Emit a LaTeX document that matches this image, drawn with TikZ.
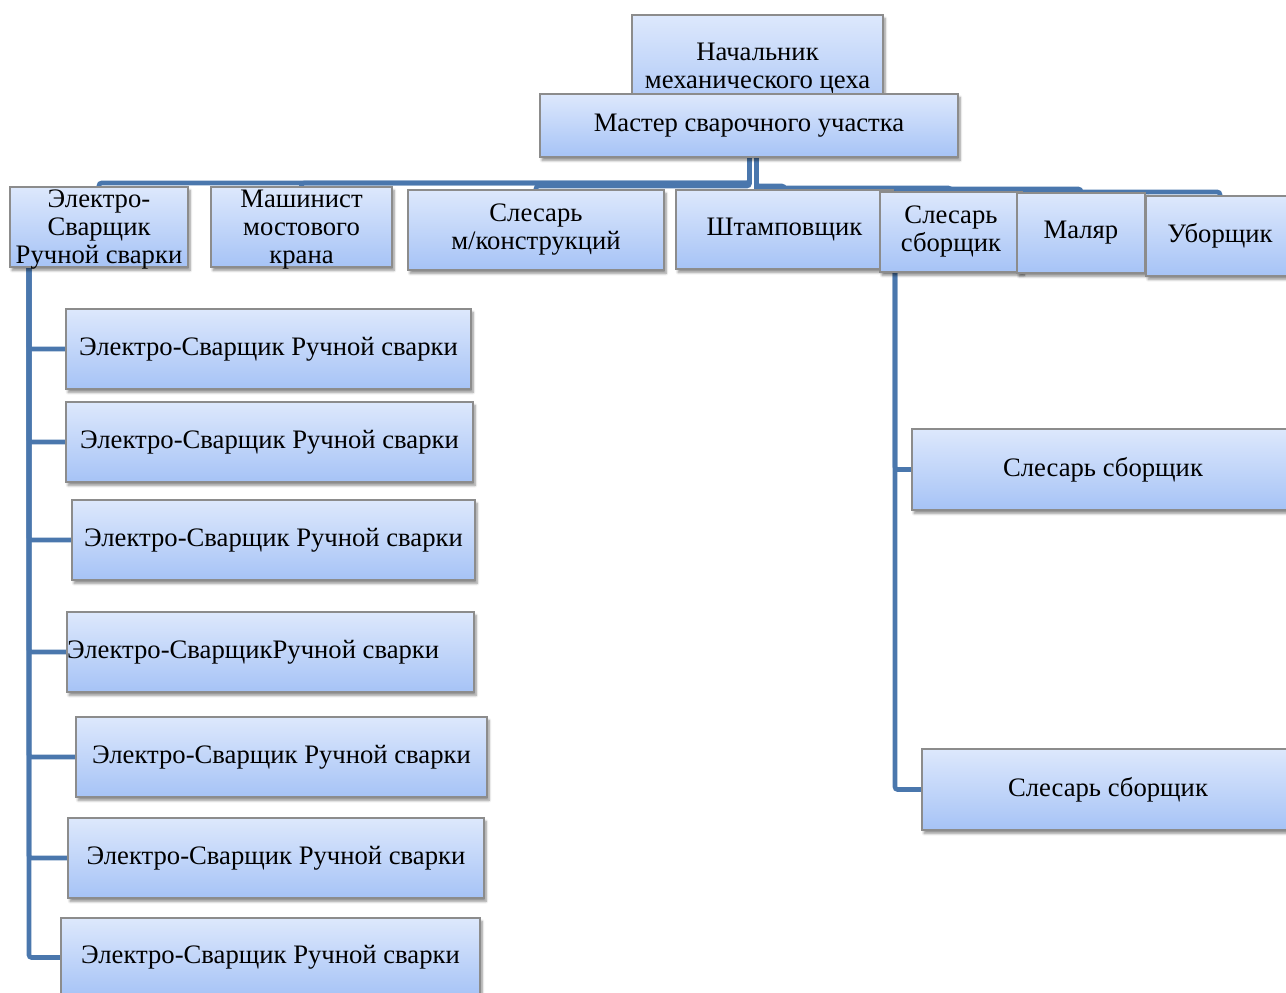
\documentclass[tikz,border=0pt]{standalone}
\usepackage{fontspec}
\setmainfont{Liberation Serif}
\usetikzlibrary{shadows.blur}
\pgfdeclarelayer{bg}
\pgfsetlayers{bg,main}
\definecolor{ln}{HTML}{4A77AD}
\definecolor{tp}{HTML}{DDE8FC}
\definecolor{bt}{HTML}{A6C3F6}
\definecolor{bd}{HTML}{8C8C8C}
\tikzset{
  box/.style={draw=bd, line width=0.8pt, top color=tp, bottom color=bt,
    blur shadow={shadow xshift=1.5pt, shadow yshift=-2.5pt, shadow blur steps=6, shadow opacity=45},
    inner sep=0pt, align=center, font=\fontsize{20}{21}\selectfont},
  lbl/.style={inner sep=0pt, anchor=west, font=\fontsize{20}{21}\selectfont},
  conn/.style={draw=ln, line width=3.5pt, rounded corners=2pt}
}
\newcommand\bx[6]{\node[box, minimum width={(#4-#2)*0.75pt}, minimum height={(#5-#3)*0.75pt}] (#1) at ({(#2+#4)/2},{(#3+#5)/2}) {#6};}
\newcommand\lowthree[3]{\raisebox{-7.5pt}[0pt][0pt]{\begin{tabular}{@{}c@{}}#1\\#2\\#3\end{tabular}}}
\begin{document}
\begin{tikzpicture}[x=0.75pt,y=-0.75pt]
\useasboundingbox (0,0) rectangle (1286,993);
\clip (0,0) rectangle (1286,993);
% top
\bx{top}{632}{15}{883}{121}{Начальник\\механического цеха}
\bx{m}{540}{94}{958}{157}{Мастер сварочного участка}
% second level
\bx{s0}{10}{187}{188}{267}{\lowthree{Электро-}{Сварщик}{Ручной сварки}}
\bx{s1}{211}{187}{392}{267}{\lowthree{Машинист}{мостового}{крана}}
\bx{s2}{408}{190}{664}{270}{Слесарь\\м/конструкций}
\bx{s3}{676}{190}{893}{269}{Штамповщик}
\bx{s4}{880}{192}{1022}{272}{Слесарь\\сборщик}
\bx{s5}{1017}{193}{1145}{273}{Маляр}
\bx{s6}{1146}{196}{1294}{276}{Уборщик}
% left column
\bx{e0}{66}{309}{471}{389}{Электро-Сварщик Ручной сварки}
\bx{e1}{66}{402}{473}{482}{Электро-Сварщик Ручной сварки}
\bx{e2}{72}{500}{475}{580}{Электро-Сварщик Ручной сварки}
\bx{e3}{67}{612}{474}{692}{}
\node[lbl] (t3) at ([xshift=0.3pt]e3.west) {Электро-СварщикРучной сварки};
\bx{e4}{76}{717}{487}{797}{Электро-Сварщик Ручной сварки}
\bx{e5}{68}{818}{484}{898}{Электро-Сварщик Ручной сварки}
\bx{e6}{61}{918}{480}{997}{Электро-Сварщик Ручной сварки}
% right column
\bx{r0}{912}{429}{1294}{510}{Слесарь сборщик}
\bx{r1}{922}{749}{1294}{830}{Слесарь сборщик}
% connectors
\coordinate (mL) at (749.5,157);
\coordinate (mR) at (756.5,157);
\coordinate (lv) at (29,267);
\coordinate (rv) at (895,272);
\begin{pgfonlayer}{bg}
\draw[conn] (mL) -- ++(0,26) -| (s0.north);
\draw[conn] (mL) -- ++(0,26) -| (s1.north);
\draw[conn] (mL) -- ++(0,29) -| (s2.north);
\draw[conn] (mR) -- ++(0,29) -| (s3.north);
\draw[conn] (mR) -- ++(0,31) -| (s4.north);
\draw[conn] (mR) -- ++(0,32) -| (s5.north);
\draw[conn] (mR) -- ++(0,35) -| (s6.north);
\foreach \n in {e0,e1,e2,e3,e4,e5,e6}{\draw[conn] (lv) |- (\n.west);}
\draw[conn] (rv) |- (r0.west);
\draw[conn] (rv) |- (r1.west);
\end{pgfonlayer}
\end{tikzpicture}
\end{document}
